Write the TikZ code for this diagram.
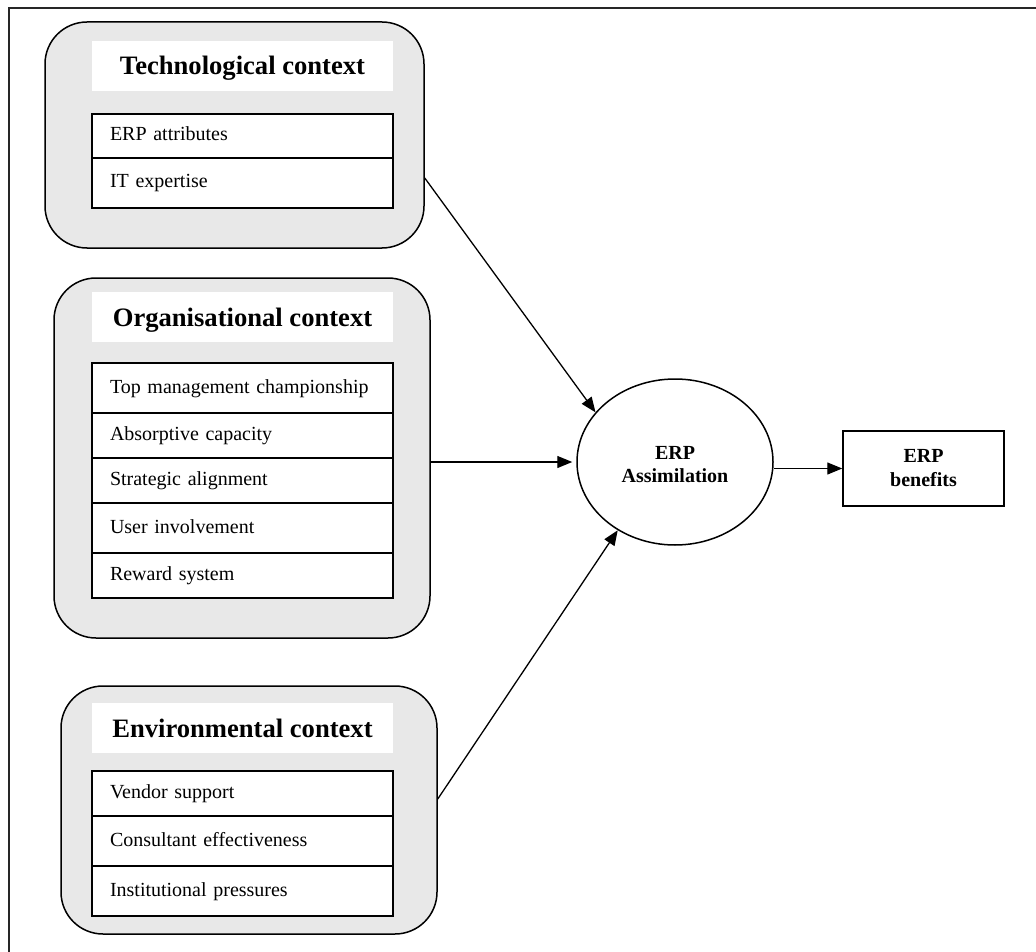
\documentclass[tikz,border=0pt]{standalone}
\usepackage{fontspec}
\setmainfont{Liberation Serif}
\usetikzlibrary{arrows.meta,shapes.geometric,calc}
\definecolor{boxgray}{RGB}{232,232,232}
\begin{document}
\begin{tikzpicture}[x=1pt,y=-1pt,
  ctx/.style={draw=black, line width=1.5pt, fill=boxgray, rounded corners=42pt, inner sep=0pt},
  ttl/.style={fill=white, inner sep=0pt, minimum width=301pt, minimum height=50pt,
    font=\fontsize{26.6}{30}\selectfont\bfseries, text height=18pt, text depth=0pt},
  itembox/.style={draw=black, line width=1.5pt, fill=white, inner sep=0pt, minimum width=301pt,
    text width=265pt, align=left, font=\fontsize{20}{24}\selectfont, text height=14pt, text depth=4pt},
  conn/.style={line width=1.3pt, -{Triangle[length=15pt,width=12pt]}},
]
\useasboundingbox (0,0) rectangle (1036,952);
\fill[white] (0,0) rectangle (1036,952);
% frame (only top and left visible)
\draw[line width=1.5pt, black!85] (1036,8) -- (9,8) -- (9,952);

% Technological context
\node[ctx, minimum width=379pt, minimum height=226pt] (tech) at (234.5,135) {};
\node[ttl] (techttl) at (242.5,66) {Technological context};
\node[itembox, minimum height=44pt, line width=2.2pt] (t1) at (242.5,136) {ERP attributes};
\node[itembox, minimum height=50pt] (t2) at (242.5,183) {IT expertise};

% Organisational context
\node[ctx, minimum width=376pt, minimum height=360pt] (org) at (242,458) {};
\node[ttl] (orgttl) at (242.5,317) {Organisational context};
\node[itembox, minimum height=50pt] (o1) at (242.5,388) {Top management championship};
\node[itembox, minimum height=45pt] (o2) at (242.5,435.5) {Absorptive capacity};
\node[itembox, minimum height=45pt] (o3) at (242.5,480.5) {Strategic alignment};
\node[itembox, minimum height=50pt] (o4) at (242.5,528) {User involvement};
\node[itembox, minimum height=45pt] (o5) at (242.5,575.5) {Reward system};

% Environmental context
\node[ctx, minimum width=376pt, minimum height=248pt] (env) at (249,810) {};
\node[ttl] (envttl) at (242.5,728) {Environmental context};
\node[itembox, minimum height=45pt] (e1) at (242.5,793.5) {Vendor support};
\node[itembox, minimum height=50pt] (e2) at (242.5,841) {Consultant effectiveness};
\node[itembox, minimum height=50pt] (e3) at (242.5,891) {Institutional pressures};

% ERP Assimilation
\node[draw, ellipse, line width=1.5pt, minimum width=196pt, minimum height=166pt, inner sep=0pt] (ell) at (675,462) {};
\node[align=center, inner sep=0pt, font=\fontsize{20}{23}\selectfont\bfseries] (elltxt) at (675,465) {ERP\\Assimilation};
% ERP benefits
\node[draw, line width=1.5pt, minimum width=161pt, minimum height=75pt, inner sep=0pt,
  align=center, font=\fontsize{20}{24}\selectfont\bfseries] (ben) at (923.5,468.5) {ERP\\benefits};

% connectors
\coordinate (techout) at (tech.east |- {(0,178)});
\coordinate (envout) at (env.east |- {(0,799)});
\coordinate (orgout) at (org.east |- ell.west);
\coordinate (ellout) at (ell.east |- ben.west);
\draw[conn] (techout) -- (ell.148);
\draw[conn, shorten >=4pt] (orgout) -- (ell.west);
\draw[conn] (envout) -- (ell.230);
\draw[conn] (ellout) -- (ben.west);
\end{tikzpicture}
\end{document}
